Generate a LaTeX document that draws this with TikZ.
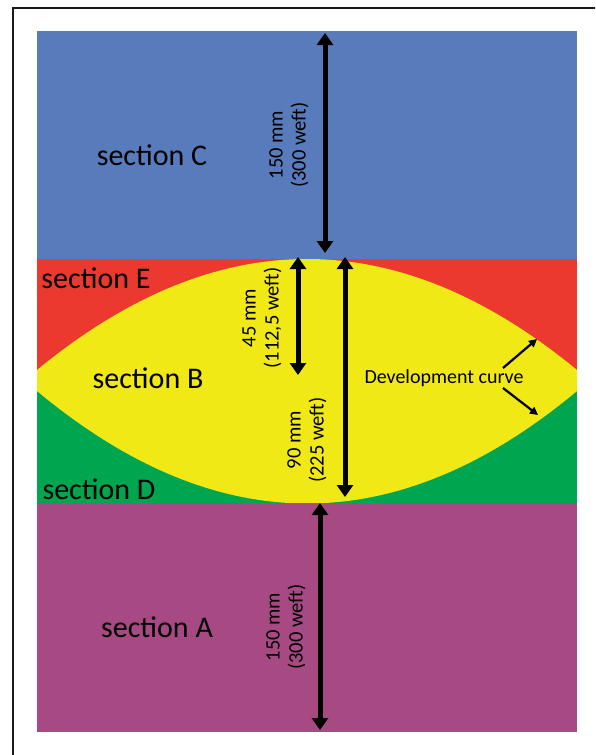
\documentclass[tikz,border=0pt]{standalone}
\usepackage{fontspec}
\setmainfont{Carlito}
\usetikzlibrary{arrows.meta}
\definecolor{secC}{RGB}{88,123,187}
\definecolor{secE}{RGB}{236,57,47}
\definecolor{secB}{RGB}{241,233,22}
\definecolor{secD}{RGB}{0,165,80}
\definecolor{secA}{RGB}{167,74,131}
\tikzset{
  seclabel/.style={inner sep=0pt, font=\fontsize{30}{36}\selectfont},
  devlabel/.style={inner sep=0pt, font=\fontsize{20}{24}\selectfont},
  dimlabel/.style={inner sep=0pt, rotate=90, align=center, font=\fontsize{20.5}{23}\selectfont},
  dimarrow/.style={line width=5pt, {Triangle[width=16pt,length=12pt]}-{Triangle[width=16pt,length=12pt]}},
  devarrow/.style={line width=2.2pt, -{Triangle[width=8pt,length=8pt]}}
}
\begin{document}
\begin{tikzpicture}[x=1pt,y=-1pt]
\useasboundingbox (0,0) rectangle (595,755);
\fill[white] (0,0) rectangle (595,755);
% frame (top and left edges visible)
\draw[line width=2.5pt, black!90] (13,755) -- (13,8) -- (595,8);
% colour regions
\fill[secE] (37,259) rectangle (577,380);
\fill[secD] (37,380) rectangle (577,503);
\fill[secB] (37,370) .. controls (217,222) and (397,222) .. (577,370)
  -- (577,391) .. controls (397,541) and (217,541) .. (37,391) -- cycle;
\fill[secC] (37,31) rectangle (577,259);
\fill[secA] (37,503) rectangle (577,732);
% section labels
\node[seclabel] (lC) at (152,155) {section C};
\node[seclabel] (lE) at (96,278) {section E};
\node[seclabel] (lB) at (148,378) {section B};
\node[seclabel] (lD) at (99,489) {section D};
\node[seclabel] (lA) at (157,627) {section A};
\node[devlabel] (dev) at (444,378) {Development curve};
% dimension labels
\node[dimlabel] (tC) at (289,145) {150 mm\\(300 weft)};
\node[dimlabel] (t45) at (262,318) {45 mm\\(112,5 weft)};
\node[dimlabel] (t90) at (307,440) {90 mm\\(225 weft)};
\node[dimlabel] (tA) at (286,627) {150 mm\\(300 weft)};
% dimension arrow end points
\coordinate (c1) at (325,33);
\coordinate (c2) at (325,253);
\coordinate (b1) at (298,257);
\coordinate (b2) at (298,375);
\coordinate (d1) at (345,257);
\coordinate (d2) at (345,497);
\coordinate (a1) at (320,503);
\coordinate (a2) at (320,730);
\draw[dimarrow] (c1) -- (c2);
\draw[dimarrow] (b1) -- (b2);
\draw[dimarrow] (d1) -- (d2);
\draw[dimarrow] (a1) -- (a2);
% development curve arrows
\coordinate (u0) at (503,368);
\coordinate (u1) at (537,339);
\coordinate (l0) at (503,388);
\coordinate (l1) at (538,415);
\draw[devarrow] (u0) -- (u1);
\draw[devarrow] (l0) -- (l1);
\end{tikzpicture}
\end{document}
